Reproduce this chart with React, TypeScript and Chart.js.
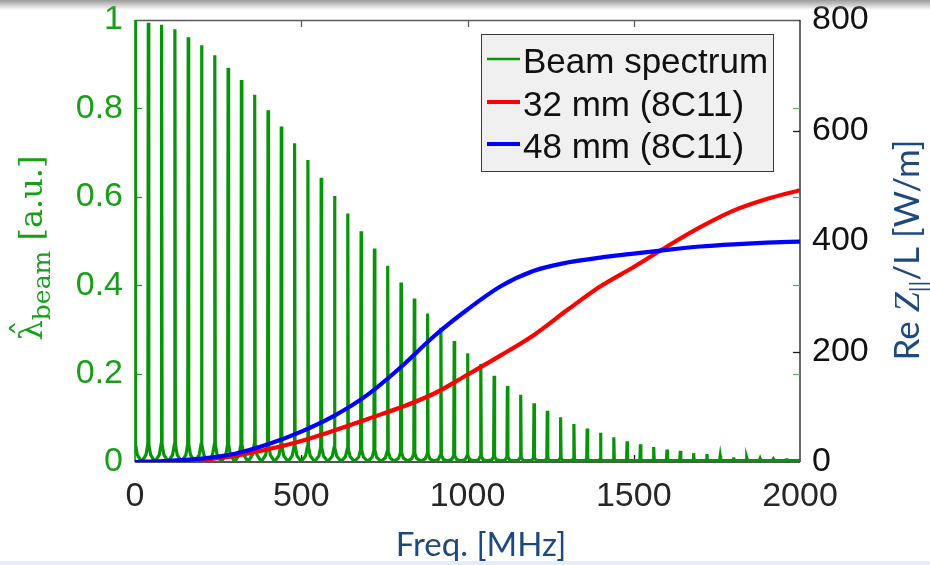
import React, { useEffect, useRef } from 'react';
import { Chart, registerables } from 'chart.js';

Chart.register(...registerables);

// ---------------- data ----------------
const harmonicFreqsMHz = [
  0, 40, 80, 120, 160, 200, 240, 280, 320, 360, 400, 440, 480, 520, 560, 600, 640,
  680, 720, 760, 800, 840, 880, 920, 960, 1000, 1040, 1080, 1120, 1160, 1200, 1240,
  1280, 1320, 1360, 1400, 1440, 1480, 1520, 1560, 1600, 1640, 1680, 1720, 1760, 1800,
  1840, 1880, 1920, 1960, 2000,
];
const beamPeaks = [
  1.0, 0.994, 0.989, 0.979, 0.961, 0.943, 0.92, 0.892, 0.864, 0.831, 0.796, 0.759,
  0.721, 0.683, 0.643, 0.602, 0.562, 0.522, 0.483, 0.444, 0.406, 0.37, 0.336, 0.304,
  0.274, 0.246, 0.222, 0.195, 0.172, 0.152, 0.133, 0.116, 0.101, 0.086, 0.076, 0.066,
  0.056, 0.047, 0.04, 0.034, 0.028, 0.025, 0.02, 0.018, 0.013, 0.011, 0.009, 0.008,
  0.007, 0.005, 0.004,
];
const beamShoulders = [
  0.04, 0.04, 0.04, 0.04, 0.04, 0.04, 0.04, 0.04, 0.04, 0.04, 0.04, 0.038, 0.036,
  0.035, 0.034, 0.032, 0.03, 0.028, 0.026, 0.024, 0.022, 0.02, 0.018, 0.016, 0.015,
  0.014, 0.013, 0.012, 0.011, 0.01, 0.009, 0.008, 0.008, 0.007, 0.007, 0.006, 0.005,
  0.005, 0.005, 0.005, 0.005, 0.005, 0.005, 0.005, 0.005, 0.005, 0.005, 0.005, 0.005,
  0.005, 0.004,
];
const beamFloor = 0.003;

const freq32 = [0, 100, 200, 300, 400, 500, 600, 700, 800, 900, 1000, 1100, 1200, 1300, 1400, 1500, 1600, 1700, 1800, 1900, 2000];
const re32 = [0, 0, 4, 11, 23, 38, 57, 78, 99, 124, 158, 193, 230, 275, 318, 353, 390, 425, 455, 476, 492];

const freq48 = [0, 100, 200, 300, 400, 500, 600, 700, 800, 900, 1000, 1100, 1200, 1300, 1400, 1500, 1600, 1700, 1800, 1900, 2000];
const re48 = [0, 2, 6, 15, 32, 55, 84, 122, 172, 228, 276, 318, 346, 361, 370, 377, 384, 390, 394, 397, 399];

const xTickValues = [0, 500, 1000, 1500, 2000];
const leftTickValues = [0, 0.2, 0.4, 0.6, 0.8, 1];
const rightTickValues = [0, 200, 400, 600, 800];

const legendLabels = ['Beam spectrum', '32 mm (8C11)', '48 mm (8C11)'];

// ---------------- styles ----------------
const GREEN_LINE = 'rgb(8,148,8)';
const GREEN_TEXT = 'rgb(24,158,24)';
const RED = '#ff0000';
const BLUE = '#0000ff';
const TITLE_BLUE = '#1F497D';
const SANS = '"Liberation Sans", Arial, sans-serif';
const TITLE_FONT = 'Lato, "Open Sans", sans-serif';

type Part = { t: string; f: string; dy: number; hat?: boolean };

function buildSpectrum() {
  const pts: { x: number; y: number }[] = [];
  harmonicFreqsMHz.forEach((f, i) => {
    const pk = beamPeaks[i];
    const sh = beamShoulders[i];
    if (f - 18 >= 0) pts.push({ x: f - 18, y: beamFloor });
    if (f - 7 >= 0) pts.push({ x: f - 7, y: Math.max(beamFloor, sh * 0.4) });
    if (f - 1.5 >= 0) pts.push({ x: f - 1.5, y: sh });
    pts.push({ x: f, y: pk });
    pts.push({ x: f + 1.5, y: sh });
    pts.push({ x: f + 7, y: Math.max(beamFloor, sh * 0.4) });
    pts.push({ x: f + 18, y: beamFloor });
  });
  return pts;
}

function drawRotated(ctx: CanvasRenderingContext2D, parts: Part[], baseX: number, centerY: number, color: string) {
  ctx.save();
  ctx.translate(baseX, centerY);
  ctx.rotate(-Math.PI / 2);
  ctx.fillStyle = color;
  ctx.textAlign = 'left';
  ctx.textBaseline = 'alphabetic';
  let total = 0;
  const ws = parts.map((p) => {
    ctx.font = p.f;
    const w = ctx.measureText(p.t).width;
    total += w;
    return w;
  });
  let u = -total / 2;
  parts.forEach((p, i) => {
    ctx.font = p.f;
    ctx.fillText(p.t, u, p.dy);
    if (p.hat) {
      ctx.textAlign = 'center';
      ctx.fillText('\u02C6', u + ws[i] / 2 + 2, p.dy - 7);
      ctx.textAlign = 'left';
    }
    u += ws[i];
  });
  ctx.restore();
}

const overlayPlugin = {
  id: 'overlay',
  beforeDatasetsDraw(chart: any) {
    const { ctx, chartArea: a, scales } = chart;
    const sx = scales.x, sy = scales.y, sy1 = scales.y1;
    ctx.save();
    ctx.lineWidth = 1.3;
    ctx.strokeStyle = '#5a5a5a';
    ctx.beginPath();
    ctx.moveTo(a.left, a.top + 0.5);
    ctx.lineTo(a.right, a.top + 0.5);
    ctx.stroke();
    ctx.strokeStyle = '#1a1a1a';
    ctx.beginPath();
    ctx.moveTo(a.right, a.top);
    ctx.lineTo(a.right, a.bottom);
    ctx.stroke();
    ctx.beginPath();
    ctx.moveTo(a.left, a.bottom);
    ctx.lineTo(a.right, a.bottom);
    ctx.stroke();
    xTickValues.slice(1, -1).forEach((v) => {
      const px = Math.round(sx.getPixelForValue(v)) + 0.5;
      ctx.strokeStyle = '#5a5a5a';
      ctx.beginPath();
      ctx.moveTo(px, a.top);
      ctx.lineTo(px, a.top + 7);
      ctx.stroke();
      ctx.strokeStyle = '#1a1a1a';
      ctx.beginPath();
      ctx.moveTo(px, a.bottom);
      ctx.lineTo(px, a.bottom - 7);
      ctx.stroke();
    });
    rightTickValues.slice(1, -1).forEach((v) => {
      const py = Math.round(sy1.getPixelForValue(v)) + 0.5;
      ctx.strokeStyle = '#1a1a1a';
      ctx.beginPath();
      ctx.moveTo(a.right, py);
      ctx.lineTo(a.right - 7, py);
      ctx.stroke();
    });
    leftTickValues.slice(1, -1).forEach((v) => {
      const py = Math.round(sy.getPixelForValue(v)) + 0.5;
      ctx.strokeStyle = GREEN_TEXT;
      ctx.beginPath();
      ctx.moveTo(a.left, py);
      ctx.lineTo(a.left + 7, py);
      ctx.stroke();
      ctx.strokeStyle = 'rgb(90,180,90)';
      ctx.beginPath();
      ctx.moveTo(a.right, py);
      ctx.lineTo(a.right - 7, py);
      ctx.stroke();
    });
    ctx.strokeStyle = GREEN_LINE;
    ctx.lineWidth = 1.6;
    ctx.beginPath();
    ctx.moveTo(a.left, a.top);
    ctx.lineTo(a.left, a.bottom);
    ctx.stroke();
    ctx.restore();
  },
  afterDraw(chart: any) {
    const { ctx } = chart;
    ctx.save();
    // ---- legend ----
    const lx = 481.5, ly = 34.5, lw = 292, lh = 137;
    ctx.fillStyle = '#f0f0f0';
    ctx.fillRect(lx, ly, lw, lh);
    ctx.strokeStyle = '#3a3a3a';
    ctx.lineWidth = 1;
    ctx.strokeRect(lx, ly, lw, lh);
    const rows = [63, 106, 148];
    const colors = [GREEN_LINE, RED, BLUE];
    const widths = [2.5, 4, 4];
    ctx.font = `35px ${SANS}`;
    ctx.textBaseline = 'middle';
    ctx.textAlign = 'left';
    legendLabels.forEach((lab, i) => {
      ctx.strokeStyle = colors[i];
      ctx.lineWidth = widths[i];
      ctx.beginPath();
      ctx.moveTo(487, rows[i] - 4);
      ctx.lineTo(520, rows[i] - 4);
      ctx.stroke();
      ctx.fillStyle = '#111';
      ctx.fillText(lab, 523, rows[i]);
    });

    // ---- x title ----
    ctx.fillStyle = TITLE_BLUE;
    ctx.font = `33px ${TITLE_FONT}`;
    ctx.textAlign = 'center';
    ctx.textBaseline = 'alphabetic';
    ctx.fillText('Freq. [MHz]', 481, 556);

    // ---- left title (rotated) ----
    drawRotated(ctx, [
      { t: '\u03BB', f: `32px "DejaVu Serif", serif`, dy: 0, hat: true },
      { t: 'beam', f: `25px "DejaVu Serif", serif`, dy: 8 },
      { t: ' [a.u.]', f: `32px "DejaVu Serif", serif`, dy: 0 },
    ], 42, 248, GREEN_TEXT);

    // ---- right title (rotated) ----
    drawRotated(ctx, [
      { t: 'Re ', f: `35px ${TITLE_FONT}`, dy: 0 },
      { t: 'Z', f: `italic 36px "Liberation Serif", serif`, dy: 0 },
      { t: '||', f: `23px ${TITLE_FONT}`, dy: 8 },
      { t: '/L [W/m]', f: `35px ${TITLE_FONT}`, dy: 0 },
    ], 919, 250, TITLE_BLUE);
    ctx.restore();
  },
};

export default function App() {
  const ref = useRef<HTMLCanvasElement | null>(null);
  useEffect(() => {
    if (!ref.current) return;
    const spectrum = buildSpectrum();
    const d32 = freq32.map((f, i) => ({ x: f, y: re32[i] }));
    const d48 = freq48.map((f, i) => ({ x: f, y: re48[i] }));
    const chart = new Chart(ref.current, {
      type: 'line',
      data: {
        datasets: [
          {
            label: legendLabels[2],
            data: d48,
            yAxisID: 'y1',
            borderColor: BLUE,
            borderWidth: 4.2,
            pointRadius: 0,
            cubicInterpolationMode: 'monotone',
            order: 0,
          },
          {
            label: legendLabels[1],
            data: d32,
            yAxisID: 'y1',
            borderColor: RED,
            borderWidth: 4.2,
            pointRadius: 0,
            cubicInterpolationMode: 'monotone',
            order: 1,
          },
          {
            label: legendLabels[0],
            data: spectrum,
            yAxisID: 'y',
            borderColor: GREEN_LINE,
            borderWidth: 3.2,
            pointRadius: 0,
            tension: 0,
            order: 2,
          },
        ],
      },
      options: {
        animation: false,
        responsive: false,
        maintainAspectRatio: false,
        layout: { padding: { top: 20, left: 0, right: 0, bottom: 0 } },
        plugins: { legend: { display: false }, tooltip: { enabled: false }, title: { display: false } },
        scales: {
          x: {
            type: 'linear',
            position: 'bottom',
            min: 0,
            max: 2000,
            afterBuildTicks: (s: any) => { s.ticks = xTickValues.map((v) => ({ value: v })); },
            grid: { display: false, drawTicks: false },
            border: { display: false },
            ticks: {
              color: '#262626',
              font: { family: SANS, size: 34, lineHeight: 1.1 },
              padding: 16,
              maxRotation: 0,
              callback: (v: any) => String(v),
            },
            afterFit: (s: any) => { s.height = 103; s.paddingLeft = 0; s.paddingRight = 0; },
          },
          y: {
            type: 'linear',
            position: 'left',
            min: 0,
            max: 1,
            afterBuildTicks: (s: any) => { s.ticks = leftTickValues.map((v) => ({ value: v })); },
            grid: { display: false, drawTicks: false },
            border: { display: false },
            ticks: {
              color: GREEN_TEXT,
              font: { family: SANS, size: 34, lineHeight: 0.5 },
              padding: 12,
              callback: (v: any) => String(Math.round(Number(v) * 10) / 10),
            },
            afterFit: (s: any) => { s.width = 135; s.paddingTop = 0; s.paddingBottom = 0; },
          },
          y1: {
            type: 'linear',
            position: 'right',
            min: 0,
            max: 800,
            afterBuildTicks: (s: any) => { s.ticks = rightTickValues.map((v) => ({ value: v })); },
            grid: { display: false, drawTicks: false },
            border: { display: false },
            ticks: {
              color: '#111',
              font: { family: SANS, size: 34, lineHeight: 0.5 },
              padding: 12,
              callback: (v: any) => String(v),
            },
            afterFit: (s: any) => { s.width = 130; s.paddingTop = 0; s.paddingBottom = 0; },
          },
        },
      },
      plugins: [overlayPlugin],
    } as any);
    return () => chart.destroy();
  }, []);

  return (
    <div style={{ position: 'fixed', left: 0, top: 0, width: 930, height: 565, background: '#fff', overflow: 'hidden' }}>
      <canvas ref={ref} width={930} height={565} style={{ display: 'block', width: 930, height: 565 }} />
      <div style={{ position: 'absolute', left: 0, top: 0, width: 930, height: 10, background: 'linear-gradient(#9a9a9a, rgba(255,255,255,0))' }} />
      <div style={{ position: 'absolute', left: 0, top: 561, width: 930, height: 4, background: '#e3ecf8' }} />
    </div>
  );
}
